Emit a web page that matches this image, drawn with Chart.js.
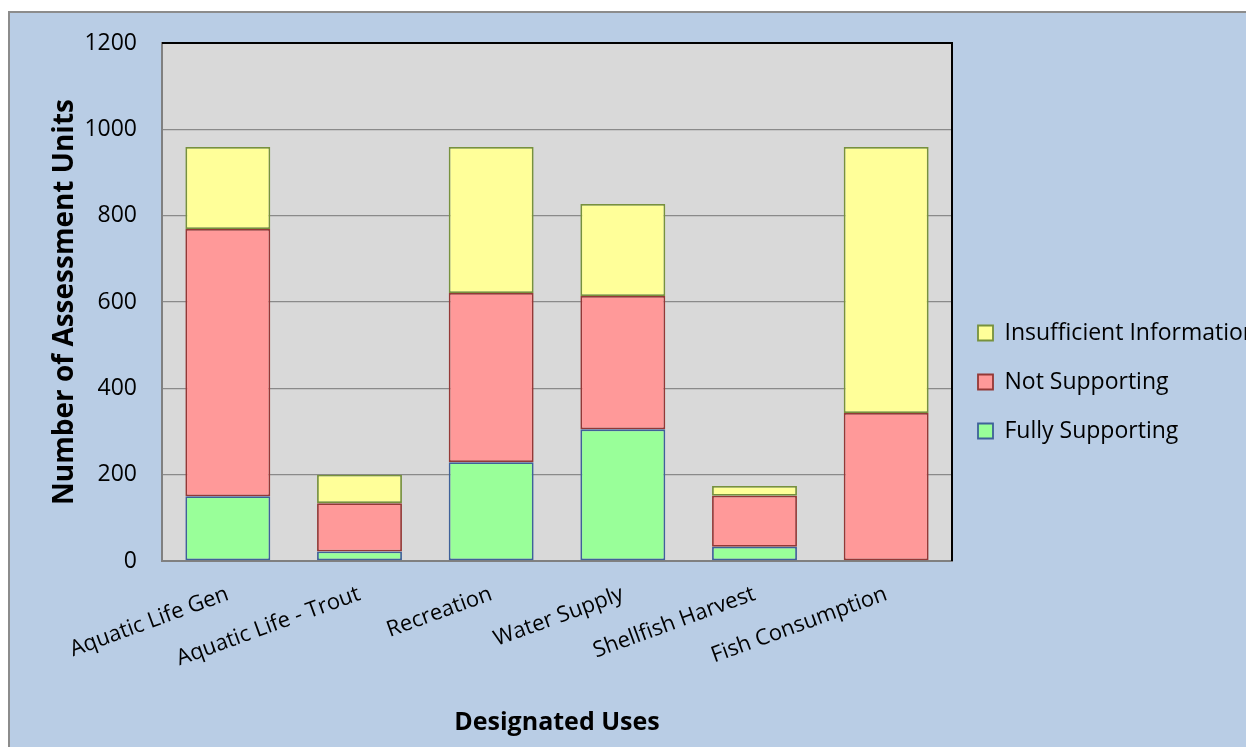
<!DOCTYPE html>
<html>
<head>
<meta charset="utf-8">
<title>Designated Uses</title>
<script src="https://cdn.jsdelivr.net/npm/chart.js@4.4.0/dist/chart.umd.min.js"></script>
<style>
  html, body { margin: 0; padding: 0; background: #fff; overflow: hidden; }
  #panel {
    position: absolute; left: 8px; top: 11px;
    width: 1236px; height: 734px;
    background: #b9cde5;
    border-left: 2px solid #8c8c8c;
    border-top: 2px solid #8c8c8c;
  }
  #panel canvas { display: block; }
</style>
</head>
<body>
<div id="panel"><canvas id="usesChart" width="1236" height="734"></canvas></div>
<script>
// assessment units per designated use
var categories = ['Aquatic Life Gen', 'Aquatic Life - Trout', 'Recreation', 'Water Supply', 'Shellfish Harvest', 'Fish Consumption'];
var fullySupporting = [150, 22, 229, 305, 33, 0];
var notSupporting = [619, 112, 392, 309, 118, 343];
var insufficientInfo = [190, 66, 338, 213, 23, 616];
var yTicks = [0, 200, 400, 600, 800, 1000, 1200];

Chart.defaults.font.family = "'Open Sans', sans-serif";
Chart.defaults.color = '#000';

// grey plot area with the black frame on top and right
var plotFrame = {
  id: 'plotFrame',
  beforeDraw: function(chart) {
    var a = chart.chartArea, ctx = chart.ctx;
    ctx.save();
    ctx.fillStyle = '#d9d9d9';
    ctx.fillRect(a.left, a.top, a.right - a.left, a.bottom - a.top);
    ctx.restore();
  },
  afterDraw: function(chart) {
    var a = chart.chartArea, ctx = chart.ctx;
    ctx.save();
    ctx.strokeStyle = '#000';
    ctx.lineWidth = 2;
    ctx.beginPath();
    ctx.moveTo(a.left, a.top);
    ctx.lineTo(a.right, a.top);
    ctx.lineTo(a.right, a.bottom);
    ctx.stroke();
    ctx.restore();
  }
};

var data = {
  labels: categories,
  datasets: [
    {
      label: 'Fully Supporting',
      data: fullySupporting,
      backgroundColor: '#99ff99',
      borderColor: '#3f6199',
      borderWidth: 1.8,
      borderSkipped: false
    },
    {
      label: 'Not Supporting',
      data: notSupporting,
      backgroundColor: '#ff9999',
      borderColor: '#943836',
      borderWidth: 1.8,
      borderSkipped: false
    },
    {
      label: 'Insufficient Information',
      data: insufficientInfo,
      backgroundColor: '#ffff99',
      borderColor: '#77913d',
      borderWidth: 1.8,
      borderSkipped: false
    }
  ]
};

var ctx = document.getElementById('usesChart');
var usesChart = new Chart(ctx, {
  type: 'bar',
  data: data,
  plugins: [plotFrame],
  options: {
    responsive: false,
    animation: false,
    categoryPercentage: 1,
    barPercentage: 0.645,
    layout: {
      padding: { top: 30, bottom: 26, left: 0, right: 0 }
    },
    plugins: {
      tooltip: { enabled: false },
      legend: {
        position: 'right',
        reverse: true,
        maxWidth: 294,
        labels: {
          font: { size: 23 },
          boxWidth: 15,
          boxHeight: 15,
          padding: 26
        }
      }
    },
    scales: {
      x: {
        stacked: true,
        grid: { display: false },
        border: { color: '#808080', width: 2 },
        ticks: {
          font: { size: 22 },
          minRotation: 20,
          maxRotation: 20,
          padding: 12
        },
        title: {
          display: true,
          text: 'Designated Uses',
          font: { size: 25, weight: 'bold' },
          padding: { top: 0, bottom: -17 }
        },
        afterFit: function(scale) {
          scale.height = 160;
        }
      },
      y: {
        stacked: true,
        min: 0,
        max: 1200,
        afterBuildTicks: function(scale) {
          scale.ticks = yTicks.map(function(v) { return { value: v }; });
        },
        // invisible tick marks keep the labels clear of the axis
        grid: { color: '#8a8a8a', lineWidth: 1.3, tickLength: 25, tickColor: 'rgba(0,0,0,0)' },
        border: { color: '#808080', width: 2 },
        ticks: {
          font: { size: 23 },
          padding: 0,
          callback: function(value) {
            return String(value);
          }
        },
        title: {
          display: true,
          text: 'Number of Assessment Units',
          font: { size: 28, weight: 'bold' },
          padding: { top: 38, bottom: 0 }
        },
        afterFit: function(scale) {
          scale.width = 152;
        }
      }
    }
  }
});
</script>
</body>
</html>
